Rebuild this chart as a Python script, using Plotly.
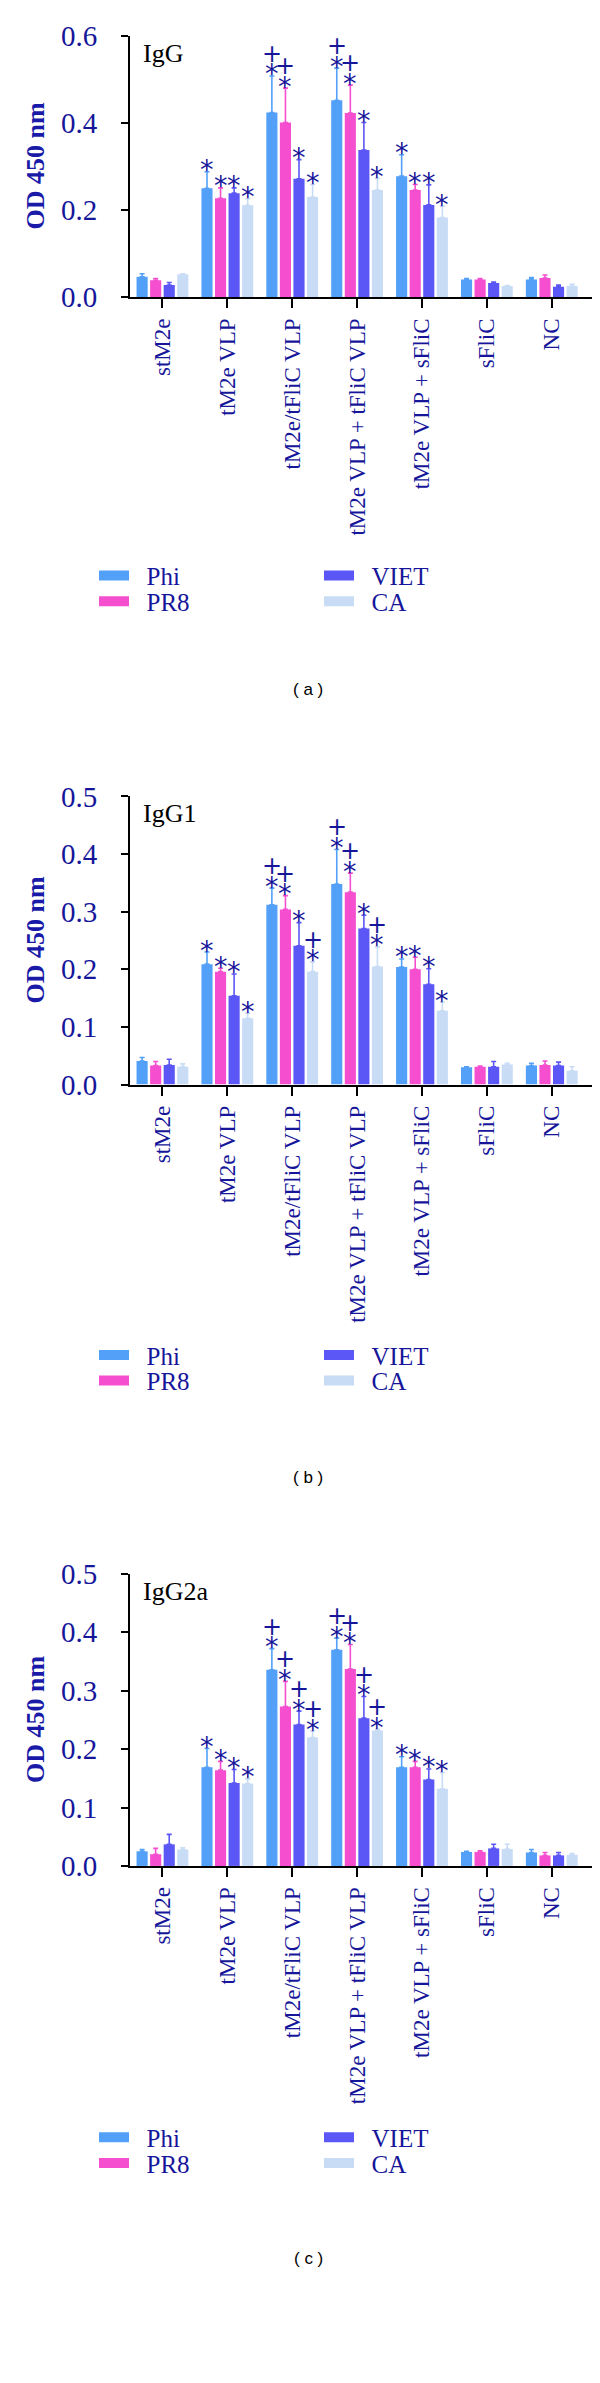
import plotly.graph_objects as go

categories = ["stM2e", "tM2e VLP", "tM2e/tFliC VLP", "tM2e VLP + tFliC VLP",
              "tM2e VLP + sFliC", "sFliC", "NC"]
series = ["Phi", "PR8", "VIET", "CA"]
colors = {"Phi": "#52a0f8", "PR8": "#f54fcf", "VIET": "#5b57f6", "CA": "#c8dcf6"}

# Panel (a) IgG
igg_mean = {
    "Phi":  [0.047, 0.250, 0.424, 0.452, 0.278, 0.041, 0.041],
    "PR8":  [0.039, 0.227, 0.401, 0.423, 0.246, 0.041, 0.044],
    "VIET": [0.028, 0.239, 0.272, 0.338, 0.212, 0.033, 0.024],
    "CA":   [0.053, 0.211, 0.230, 0.246, 0.183, 0.026, 0.026],
}
igg_err = {
    "Phi":  [0.007, 0.038, 0.084, 0.074, 0.049, 0.002, 0.004],
    "PR8":  [0.004, 0.024, 0.079, 0.064, 0.013, 0.002, 0.007],
    "VIET": [0.006, 0.012, 0.044, 0.063, 0.046, 0.002, 0.004],
    "CA":   [0.001, 0.015, 0.029, 0.027, 0.026, 0.001, 0.004],
}
igg_sig = {
    "Phi":  ["", "*", "*+", "*+", "*", "", ""],
    "PR8":  ["", "*", "*+", "*+", "*", "", ""],
    "VIET": ["", "*", "*", "*", "*", "", ""],
    "CA":   ["", "*", "*", "*", "*", "", ""],
}

# Panel (b) IgG1
igg1_mean = {
    "Phi":  [0.041, 0.209, 0.312, 0.348, 0.204, 0.030, 0.033],
    "PR8":  [0.033, 0.196, 0.304, 0.334, 0.200, 0.031, 0.034],
    "VIET": [0.034, 0.154, 0.241, 0.271, 0.174, 0.031, 0.033],
    "CA":   [0.031, 0.115, 0.196, 0.205, 0.128, 0.035, 0.024],
}
igg1_err = {
    "Phi":  [0.006, 0.021, 0.029, 0.060, 0.014, 0.001, 0.004],
    "PR8":  [0.007, 0.006, 0.024, 0.033, 0.021, 0.001, 0.007],
    "VIET": [0.010, 0.038, 0.040, 0.023, 0.027, 0.009, 0.006],
    "CA":   [0.005, 0.009, 0.017, 0.034, 0.015, 0.002, 0.007],
}
igg1_sig = {
    "Phi":  ["", "*", "*+", "*+", "*", "", ""],
    "PR8":  ["", "*", "*+", "*+", "*", "", ""],
    "VIET": ["", "*", "*", "*", "*", "", ""],
    "CA":   ["", "*", "*+", "*+", "*", "", ""],
}

# Panel (c) IgG2a
igg2a_mean = {
    "Phi":  [0.025, 0.169, 0.336, 0.370, 0.169, 0.024, 0.023],
    "PR8":  [0.020, 0.164, 0.273, 0.337, 0.169, 0.024, 0.018],
    "VIET": [0.037, 0.142, 0.242, 0.253, 0.148, 0.030, 0.018],
    "CA":   [0.028, 0.141, 0.220, 0.232, 0.132, 0.029, 0.019],
}
igg2a_err = {
    "Phi":  [0.003, 0.032, 0.036, 0.020, 0.018, 0.001, 0.005],
    "PR8":  [0.010, 0.015, 0.043, 0.042, 0.010, 0.002, 0.005],
    "VIET": [0.017, 0.023, 0.023, 0.037, 0.018, 0.007, 0.005],
    "CA":   [0.003, 0.008, 0.011, 0.002, 0.028, 0.008, 0.002],
}
igg2a_sig = {
    "Phi":  ["", "*", "*+", "*+", "*", "", ""],
    "PR8":  ["", "*", "*+", "*+", "*", "", ""],
    "VIET": ["", "*", "*+", "*+", "*", "", ""],
    "CA":   ["", "*", "*+", "*+", "*", "", ""],
}

panel_names = ["IgG", "IgG1", "IgG2a"]
panel_caps = ["( a )", "( b )", "( c )"]
panel_means = [igg_mean, igg1_mean, igg2a_mean]
panel_errs = [igg_err, igg1_err, igg2a_err]
panel_sigs = [igg_sig, igg1_sig, igg2a_sig]
panel_ymax = [0.6, 0.5, 0.5]
panel_dtick = [0.2, 0.1, 0.1]

W, H = 600, 2383
NAVY = "#16169a"
SERIF = "Liberation Serif, Times New Roman, serif"
BARGAP = 0.164

def py(px):
    return 1 - px / H

# plot area pixel geometry: (zero line y, top y, legend offset)
panel_px = [(277, 12, 277), (1075, 783, 269), (1867, 1571, 270)]
x_dom = [122 / W, 584 / W]
x_range = [-0.5, 6.62]

fig = go.Figure()
annotations = []
legend_row = {"Phi": 0, "VIET": 0, "PR8": 1, "CA": 1}
legend_rank = {"Phi": 1, "VIET": 2, "PR8": 1, "CA": 2}
cat_idx = list(range(len(categories)))
NB = "\u00a0\u00a0"

for p in range(3):
    sfx = "" if p == 0 else str(p + 1)
    xa, ya = "x" + sfx, "y" + sfx
    legs = []
    for r in range(2):
        k = 2 * p + r + 1
        legs.append("legend" if k == 1 else "legend" + str(k))
    means, errs, sigs = panel_means[p], panel_errs[p], panel_sigs[p]
    for j, s in enumerate(series):
        fig.add_trace(go.Bar(
            x=cat_idx, y=means[s], name=s, xaxis=xa, yaxis=ya,
            marker=dict(color=colors[s], line=dict(width=0)),
            error_y=dict(type="data", symmetric=False, array=errs[s],
                         arrayminus=[0] * len(categories),
                         color=colors[s], thickness=1.6, width=2.5),
            showlegend=False,
        ))
        # legend swatch (wide rectangle)
        fig.add_trace(go.Scatter(
            x=[None], y=[None], mode="lines", name=NB + s,
            line=dict(color=colors[s], width=15), xaxis=xa, yaxis=ya,
            legend=legs[legend_row[s]], legendrank=legend_rank[s], showlegend=True,
        ))
        # significance marks
        for i in cat_idx:
            mark = sigs[s][i]
            if not mark:
                continue
            xpos = i + (j - 1.5) * (1 - BARGAP) / 4
            ytop = means[s][i] + errs[s][i]
            annotations.append(dict(
                x=xpos, y=ytop, xref=xa, yref=ya, text="*", showarrow=False,
                xanchor="center", yanchor="middle", yshift=2,
                font=dict(family="DejaVu Sans", size=27, color=NAVY)))
            if "+" in mark:
                annotations.append(dict(
                    x=xpos, y=ytop, xref=xa, yref=ya, text="+", showarrow=False,
                    xanchor="center", yanchor="middle", yshift=22,
                    font=dict(family="DejaVu Sans", size=24, color=NAVY)))

    y0, y1, loff = panel_px[p]
    ydom = [py(y0), py(y1)]
    axis_common = dict(showline=True, linecolor="black", linewidth=2,
                       ticks="outside", tickcolor="black", tickwidth=2,
                       showgrid=False, zeroline=False)
    layout_upd = {
        "xaxis" + sfx: dict(domain=x_dom, range=x_range, anchor=ya,
                            tickmode="array", tickvals=cat_idx, ticktext=categories,
                            tickangle=-90, ticklen=9, ticklabelstandoff=1,
                            tickfont=dict(family=SERIF, size=23, color=NAVY),
                            **axis_common),
        "yaxis" + sfx: dict(domain=ydom, range=[0, panel_ymax[p]], anchor=xa,
                            dtick=panel_dtick[p], tickformat=".1f", ticklen=7,
                            ticklabelstandoff=18,
                            tickfont=dict(family=SERIF, size=29, color=NAVY),
                            **axis_common),
    }
    for r in range(2):
        layout_upd[legs[r]] = dict(
            orientation="h", x=86 / W, xanchor="left",
            y=py(y0 + loff + 26 * r - 18), yanchor="top",
            entrywidth=180, itemwidth=30,
            font=dict(family=SERIF, size=25, color=NAVY),
            bgcolor="rgba(0,0,0,0)")
    fig.update_layout(**layout_upd)
    # y axis title
    annotations.append(dict(
        x=28 / W, y=(ydom[0] + ydom[1]) / 2, xref="paper", yref="paper",
        text="<b>OD 450 nm</b>", textangle=-90, showarrow=False,
        xanchor="center", yanchor="middle",
        font=dict(family=SERIF, size=26, color="#1a1aa8")))
    # panel label
    annotations.append(dict(
        x=133 / W, y=py(y1 + 1), xref="paper", yref="paper", text=panel_names[p],
        showarrow=False, xanchor="left", yanchor="top",
        font=dict(family=SERIF, size=26, color="black")))
    # caption
    annotations.append(dict(
        x=0.5, y=py(y0 + 398), xref="paper", yref="paper", text=panel_caps[p],
        showarrow=False, xanchor="center", yanchor="middle",
        font=dict(family="Liberation Sans, Arial, sans-serif", size=17, color="black")))

fig.update_layout(
    width=W, height=H, autosize=False,
    margin=dict(l=0, r=0, t=0, b=0),
    paper_bgcolor="white", plot_bgcolor="white",
    barmode="group", bargap=BARGAP, bargroupgap=0.18,
    annotations=annotations,
)

fig.write_html("out.html")
